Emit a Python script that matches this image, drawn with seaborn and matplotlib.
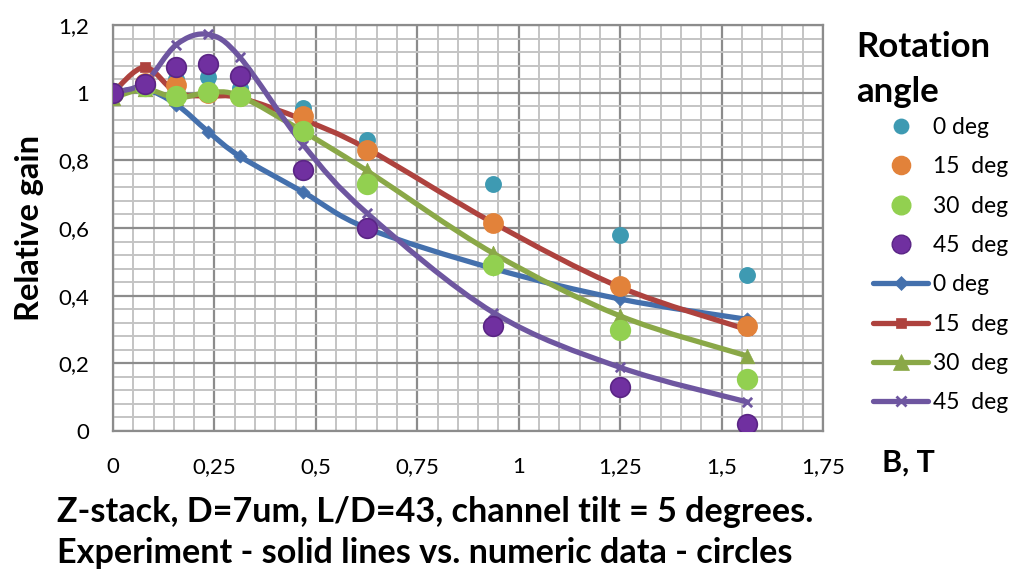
import numpy as np
import pandas as pd
import matplotlib
matplotlib.use("Agg")
import matplotlib.pyplot as plt
from matplotlib.path import Path
from matplotlib.patches import PathPatch
from matplotlib.lines import Line2D
from matplotlib.ticker import MultipleLocator, FuncFormatter
import seaborn as sns

# magnetic field, T
b_field = [0, 0.078125, 0.15625, 0.234375, 0.3125, 0.46875, 0.625, 0.9375, 1.25, 1.5625]
angles = ["0 deg", "15  deg", "30  deg", "45  deg"]

# numeric data (circles)
num_0 = [1.0, 1.03, 1.04, 1.047, 1.015, 0.955, 0.86, 0.73, 0.58, 0.46]
num_15 = [1.0, 1.03, 1.024, 1.0, 0.99, 0.93, 0.83, 0.615, 0.43, 0.31]
num_30 = [1.0, 1.02, 0.99, 1.003, 0.99, 0.887, 0.73, 0.49, 0.30, 0.155]
num_45 = [1.0, 1.027, 1.077, 1.086, 1.05, 0.77, 0.60, 0.31, 0.13, 0.02]

# experiment (solid lines)
exp_0 = [1.0, 1.01, 0.965, 0.885, 0.812, 0.706, 0.60, 0.48, 0.39, 0.33]
exp_15 = [1.0, 1.075, 1.0, 0.99, 0.985, 0.92, 0.835, 0.615, 0.425, 0.30]
exp_30 = [0.985, 1.01, 0.985, 1.0, 0.99, 0.885, 0.77, 0.525, 0.34, 0.222]
exp_45 = [1.0, 1.03, 1.142, 1.172, 1.105, 0.846, 0.645, 0.35, 0.188, 0.086]

circle_colors = ["#3E9AB2", "#E2823A", "#92D050", "#7030A0"]
line_colors = ["#4470AD", "#AE423E", "#8AA847", "#6E56A0"]
line_markers = ["D", "s", "^", "x"]

sns.set_theme(style="white")
plt.rcParams["font.family"] = ["Lato", "DejaVu Sans"]
plt.rcParams["text.color"] = "black"

fig = plt.figure(figsize=(10.14, 5.72), dpi=100)
ax = fig.add_axes([113 / 1014, 1 - 431 / 572, 710 / 1014, 406 / 572])


def smooth_path(xs, ys):
    # Excel-like smoothed line as cubic Bezier segments
    pts = np.column_stack([xs, ys])
    verts = [pts[0]]
    codes = [Path.MOVETO]
    n = len(pts)
    for i in range(n - 1):
        p0 = pts[i - 1] if i > 0 else pts[i]
        p1 = pts[i]
        p2 = pts[i + 1]
        p3 = pts[i + 2] if i + 2 < n else pts[i + 1]
        c1 = p1 + (p2 - p0) / 6
        c2 = p2 - (p3 - p1) / 6
        verts += [c1, c2, p2]
        codes += [Path.CURVE4] * 3
    return Path(verts, codes)


exp_series = [exp_0, exp_15, exp_30, exp_45]
num_series = [num_0, num_15, num_30, num_45]

for ys, col, mk in zip(exp_series, line_colors, line_markers):
    ax.add_patch(PathPatch(smooth_path(b_field, ys), facecolor="none",
                           edgecolor=col, lw=3.8, zorder=3, capstyle="round"))
    df = pd.DataFrame({"B": b_field, "gain": ys})
    size = 110 if mk == "^" else 45
    sns.scatterplot(data=df, x="B", y="gain", marker=mk, s=size, color=col,
                    edgecolor=col, linewidth=2 if mk == "x" else 0.5, ax=ax, zorder=4)

num_sizes = [120, 190, 200, 200]
for ys, col, sz in zip(num_series, circle_colors, num_sizes):
    df = pd.DataFrame({"B": b_field, "gain": ys})
    edge = "#5A2585" if col == "#7030A0" else col
    sns.scatterplot(data=df, x="B", y="gain", marker="o", s=sz, color=col,
                    edgecolor=edge, linewidth=1.2, ax=ax, zorder=5)

ax.set_xlim(0, 1.75)
ax.set_ylim(0, 1.2)
ax.xaxis.set_major_locator(MultipleLocator(0.25))
ax.xaxis.set_minor_locator(MultipleLocator(0.05))
ax.yaxis.set_major_locator(MultipleLocator(0.2))
ax.yaxis.set_minor_locator(MultipleLocator(0.04))

comma = FuncFormatter(lambda v, p: ("%g" % round(v, 2)).replace(".", ","))
ax.xaxis.set_major_formatter(comma)
ax.yaxis.set_major_formatter(comma)

ax.grid(which="major", color="#8C8C8C", lw=1.6, zorder=0)
ax.grid(which="minor", color="#C4C4C4", lw=1.4, zorder=0)
ax.set_axisbelow(True)
for s in ax.spines.values():
    s.set_color("#8C8C8C")
    s.set_linewidth(1.6)
ax.tick_params(axis="both", which="major", direction="out", length=7, width=1.6,
               color="#8C8C8C", labelsize=16, labelcolor="black")
ax.tick_params(axis="both", which="minor", length=0)
ax.tick_params(axis="x", pad=12)
ax.tick_params(axis="y", pad=10)
ax.set_xlabel("")
ax.set_ylabel("")

fig.text(30 / 1014, 1 - 228 / 572, "Relative gain", rotation=90, fontsize=23.5,
         fontweight="bold", ha="center", va="center")
fig.text(882 / 1014, 1 - 472 / 572, "B, T", fontsize=22, fontweight="bold",
         ha="left", va="baseline")
fig.text(57 / 1014, 1 - 522 / 572, "Z-stack, D=7um, L/D=43, channel tilt = 5 degrees.",
         fontsize=24.6, fontweight="bold", ha="left", va="baseline")
fig.text(57 / 1014, 1 - 563 / 572, "Experiment - solid lines vs. numeric data - circles",
         fontsize=24.6, fontweight="bold", ha="left", va="baseline")

# legend title
fig.text(856 / 1014, 1 - 57 / 572, "Rotation", fontsize=25, fontweight="bold",
         ha="left", va="baseline")
fig.text(856 / 1014, 1 - 102 / 572, "angle", fontsize=25, fontweight="bold",
         ha="left", va="baseline")

handles = []
for col, sz in zip(circle_colors, num_sizes):
    edge = "#5A2585" if col == "#7030A0" else col
    handles.append(Line2D([], [], linestyle="", marker="o", markersize=np.sqrt(sz) * 0.95,
                          markerfacecolor=col, markeredgecolor=edge))
for col, mk in zip(line_colors, line_markers):
    handles.append(Line2D([], [], color=col, lw=3.8, marker=mk,
                          markersize=11 if mk == "^" else 7, markeredgewidth=2 if mk == "x" else 0.5,
                          markerfacecolor=col, markeredgecolor=col))
labels = angles + angles

leg = fig.legend(handles, labels, loc="upper left",
                 bbox_to_anchor=(873 / 1014, 1 - 117 / 572), frameon=False,
                 fontsize=16.5, handlelength=2.4, handletextpad=0.2,
                 labelspacing=0.8, borderaxespad=0, borderpad=0)
for t in leg.get_texts():
    t.set_color("black")

fig.savefig("out.png", dpi=100)
